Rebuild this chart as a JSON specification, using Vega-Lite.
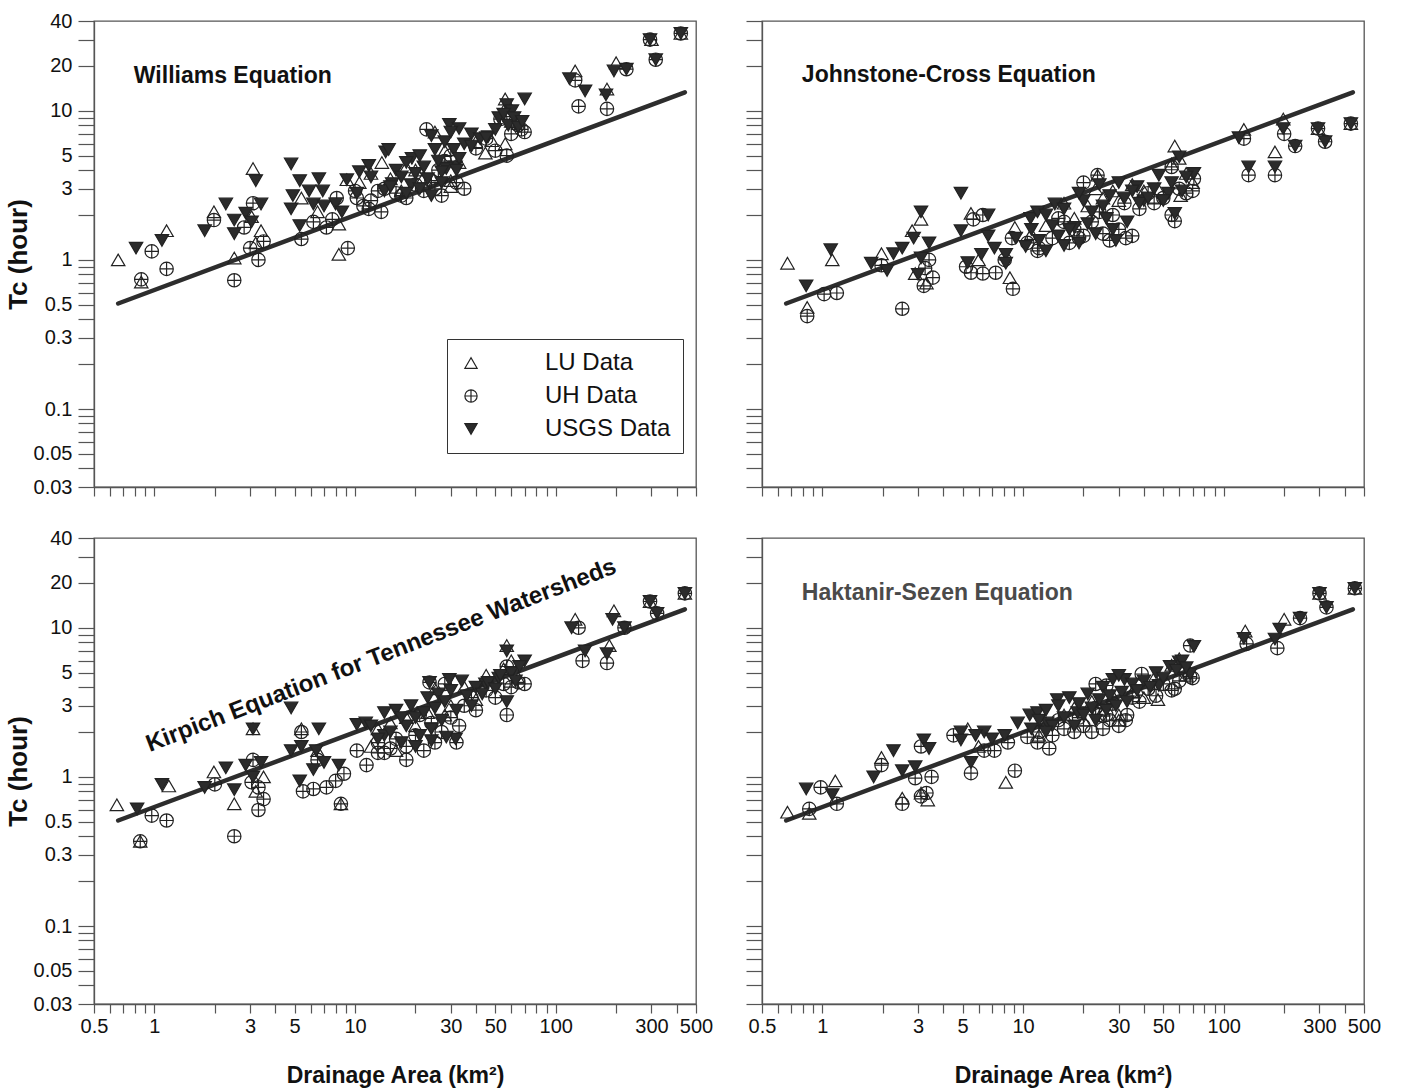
{
"$schema": "https://vega.github.io/schema/vega-lite/v6.json",
"background": "white",
"padding": {"left": 4, "top": 10, "right": 6, "bottom": 0},
"config": {
  "font": "Liberation Sans",
  "view": {"stroke": "#555", "strokeWidth": 1.3},
  "axis": {"grid": false, "domainColor": "#555", "domainWidth": 1.3, "tickColor": "#555", "tickWidth": 1.2, "labelColor": "#111", "labelFontSize": 20, "labelFont": "Liberation Sans", "titleFont": "Liberation Sans", "titleFontWeight": "bold", "titleColor": "#111", "labelOverlap": false, "labelBound": false, "labelFlush": false},
  "axisX": {"tickSize": 9, "labelPadding": 3},
  "axisY": {"tickSize": 16, "labelPadding": 6}
},
"datasets": {
  "fit": [{"area": 0.66, "tc": 0.51}, {"area": 440, "tc": 13.3}],
  "pts": [
{"panel":"W","source":"LU Data","area":0.66,"tc":1.0},{"panel":"W","source":"LU Data","area":0.86,"tc":0.71},{"panel":"W","source":"LU Data","area":1.15,"tc":1.57},{"panel":"W","source":"LU Data","area":1.98,"tc":2.1},{"panel":"W","source":"LU Data","area":2.5,"tc":1.03},{"panel":"W","source":"LU Data","area":3.05,"tc":1.95},{"panel":"W","source":"LU Data","area":3.1,"tc":4.1},{"panel":"W","source":"LU Data","area":3.4,"tc":1.57},{"panel":"W","source":"LU Data","area":8.3,"tc":1.09},{"panel":"W","source":"LU Data","area":8.3,"tc":1.74},{"panel":"W","source":"LU Data","area":9.1,"tc":3.45},{"panel":"W","source":"LU Data","area":10.5,"tc":3.3},{"panel":"W","source":"LU Data","area":13.6,"tc":4.5},{"panel":"W","source":"LU Data","area":44.6,"tc":5.2},{"panel":"W","source":"LU Data","area":56,"tc":6.0},{"panel":"W","source":"LU Data","area":56,"tc":12},{"panel":"W","source":"LU Data","area":30,"tc":3.4},{"panel":"W","source":"LU Data","area":125,"tc":18.5},{"panel":"W","source":"LU Data","area":200,"tc":21},{"panel":"W","source":"LU Data","area":180,"tc":14},{"panel":"W","source":"LU Data","area":12,"tc":3.8},{"panel":"W","source":"LU Data","area":15,"tc":3.5},{"panel":"W","source":"LU Data","area":17,"tc":2.9},{"panel":"W","source":"LU Data","area":18,"tc":4.2},{"panel":"W","source":"LU Data","area":20,"tc":4.0},{"panel":"W","source":"LU Data","area":22,"tc":3.6},{"panel":"W","source":"LU Data","area":25,"tc":7.2},{"panel":"W","source":"LU Data","area":28,"tc":5.4},{"panel":"W","source":"LU Data","area":30,"tc":3.1},{"panel":"W","source":"LU Data","area":33,"tc":4.5},{"panel":"W","source":"LU Data","area":40,"tc":6.2},{"panel":"W","source":"LU Data","area":48,"tc":6.3},{"panel":"W","source":"LU Data","area":55,"tc":10},{"panel":"W","source":"LU Data","area":60,"tc":8.5},{"panel":"W","source":"LU Data","area":65,"tc":8.2},{"panel":"W","source":"LU Data","area":5.4,"tc":2.6},{"panel":"W","source":"LU Data","area":6.5,"tc":2.1},{"panel":"W","source":"LU Data","area":3.2,"tc":1.3},{"panel":"W","source":"LU Data","area":300,"tc":30},{"panel":"W","source":"LU Data","area":420,"tc":33},
{"panel":"W","source":"UH Data","area":0.97,"tc":1.14},{"panel":"W","source":"UH Data","area":1.15,"tc":0.87},{"panel":"W","source":"UH Data","area":0.86,"tc":0.74},{"panel":"W","source":"UH Data","area":1.98,"tc":1.85},{"panel":"W","source":"UH Data","area":2.5,"tc":0.73},{"panel":"W","source":"UH Data","area":2.8,"tc":1.65},{"panel":"W","source":"UH Data","area":3.1,"tc":2.4},{"panel":"W","source":"UH Data","area":3.0,"tc":1.2},{"panel":"W","source":"UH Data","area":3.3,"tc":1.0},{"panel":"W","source":"UH Data","area":3.5,"tc":1.33},{"panel":"W","source":"UH Data","area":5.4,"tc":1.38},{"panel":"W","source":"UH Data","area":6.2,"tc":1.8},{"panel":"W","source":"UH Data","area":7.2,"tc":1.65},{"panel":"W","source":"UH Data","area":8.1,"tc":2.6},{"panel":"W","source":"UH Data","area":9.2,"tc":1.2},{"panel":"W","source":"UH Data","area":7.7,"tc":1.87},{"panel":"W","source":"UH Data","area":10.2,"tc":2.6},{"panel":"W","source":"UH Data","area":13,"tc":2.9},{"panel":"W","source":"UH Data","area":13.5,"tc":2.1},{"panel":"W","source":"UH Data","area":11.7,"tc":2.2},{"panel":"W","source":"UH Data","area":22.7,"tc":7.5},{"panel":"W","source":"UH Data","area":57,"tc":5.0},{"panel":"W","source":"UH Data","area":53,"tc":8.8},{"panel":"W","source":"UH Data","area":67.5,"tc":7.5},{"panel":"W","source":"UH Data","area":32,"tc":3.3},{"panel":"W","source":"UH Data","area":130,"tc":10.7},{"panel":"W","source":"UH Data","area":225,"tc":19},{"panel":"W","source":"UH Data","area":180,"tc":10.3},{"panel":"W","source":"UH Data","area":295,"tc":30},{"panel":"W","source":"UH Data","area":315,"tc":22},{"panel":"W","source":"UH Data","area":420,"tc":33},{"panel":"W","source":"UH Data","area":14,"tc":3.0},{"panel":"W","source":"UH Data","area":16,"tc":2.8},{"panel":"W","source":"UH Data","area":18,"tc":2.6},{"panel":"W","source":"UH Data","area":20,"tc":3.2},{"panel":"W","source":"UH Data","area":22,"tc":2.9},{"panel":"W","source":"UH Data","area":24,"tc":3.4},{"panel":"W","source":"UH Data","area":26,"tc":4.0},{"panel":"W","source":"UH Data","area":28,"tc":4.6},{"panel":"W","source":"UH Data","area":30,"tc":5.0},{"panel":"W","source":"UH Data","area":35,"tc":3.0},{"panel":"W","source":"UH Data","area":40,"tc":5.6},{"panel":"W","source":"UH Data","area":45,"tc":6.5},{"panel":"W","source":"UH Data","area":50,"tc":5.4},{"panel":"W","source":"UH Data","area":60,"tc":7.0},{"panel":"W","source":"UH Data","area":65,"tc":8.0},{"panel":"W","source":"UH Data","area":70,"tc":7.2},{"panel":"W","source":"UH Data","area":12,"tc":2.5},{"panel":"W","source":"UH Data","area":11,"tc":2.3},{"panel":"W","source":"UH Data","area":17,"tc":2.7},{"panel":"W","source":"UH Data","area":25,"tc":3.0},{"panel":"W","source":"UH Data","area":27,"tc":2.7},{"panel":"W","source":"UH Data","area":10,"tc":2.9},{"panel":"W","source":"UH Data","area":125,"tc":16},
{"panel":"W","source":"USGS Data","area":0.81,"tc":1.2},{"panel":"W","source":"USGS Data","area":1.09,"tc":1.35},{"panel":"W","source":"USGS Data","area":1.78,"tc":1.57},{"panel":"W","source":"USGS Data","area":2.27,"tc":2.37},{"panel":"W","source":"USGS Data","area":2.5,"tc":1.85},{"panel":"W","source":"USGS Data","area":2.5,"tc":1.5},{"panel":"W","source":"USGS Data","area":2.85,"tc":2.06},{"panel":"W","source":"USGS Data","area":3.2,"tc":3.4},{"panel":"W","source":"USGS Data","area":3.4,"tc":2.37},{"panel":"W","source":"USGS Data","area":3.05,"tc":1.8},{"panel":"W","source":"USGS Data","area":4.8,"tc":4.4},{"panel":"W","source":"USGS Data","area":5.3,"tc":3.4},{"panel":"W","source":"USGS Data","area":4.9,"tc":2.7},{"panel":"W","source":"USGS Data","area":4.8,"tc":2.2},{"panel":"W","source":"USGS Data","area":5.3,"tc":1.7},{"panel":"W","source":"USGS Data","area":5.9,"tc":2.9},{"panel":"W","source":"USGS Data","area":6.6,"tc":3.5},{"panel":"W","source":"USGS Data","area":6.2,"tc":2.37},{"panel":"W","source":"USGS Data","area":7.0,"tc":2.3},{"panel":"W","source":"USGS Data","area":6.9,"tc":2.9},{"panel":"W","source":"USGS Data","area":8.0,"tc":2.37},{"panel":"W","source":"USGS Data","area":8.6,"tc":2.1},{"panel":"W","source":"USGS Data","area":9.1,"tc":3.45},{"panel":"W","source":"USGS Data","area":10.2,"tc":2.8},{"panel":"W","source":"USGS Data","area":10.5,"tc":3.9},{"panel":"W","source":"USGS Data","area":11.7,"tc":4.3},{"panel":"W","source":"USGS Data","area":14.2,"tc":5.3},{"panel":"W","source":"USGS Data","area":15.3,"tc":3.25},{"panel":"W","source":"USGS Data","area":14.7,"tc":5.5},{"panel":"W","source":"USGS Data","area":19.2,"tc":4.8},{"panel":"W","source":"USGS Data","area":29.5,"tc":8.1},{"panel":"W","source":"USGS Data","area":33,"tc":7.6},{"panel":"W","source":"USGS Data","area":28,"tc":6.2},{"panel":"W","source":"USGS Data","area":38,"tc":7.0},{"panel":"W","source":"USGS Data","area":46,"tc":6.7},{"panel":"W","source":"USGS Data","area":52,"tc":9.0},{"panel":"W","source":"USGS Data","area":57,"tc":11},{"panel":"W","source":"USGS Data","area":60.5,"tc":10},{"panel":"W","source":"USGS Data","area":70,"tc":12},{"panel":"W","source":"USGS Data","area":31.7,"tc":4.2},{"panel":"W","source":"USGS Data","area":28.5,"tc":4.1},{"panel":"W","source":"USGS Data","area":117,"tc":16.4},{"panel":"W","source":"USGS Data","area":140,"tc":13.6},{"panel":"W","source":"USGS Data","area":195,"tc":18.5},{"panel":"W","source":"USGS Data","area":178,"tc":12.8},{"panel":"W","source":"USGS Data","area":295,"tc":30},{"panel":"W","source":"USGS Data","area":315,"tc":22},{"panel":"W","source":"USGS Data","area":420,"tc":33},{"panel":"W","source":"USGS Data","area":225,"tc":19},{"panel":"W","source":"USGS Data","area":16,"tc":4.0},{"panel":"W","source":"USGS Data","area":17,"tc":3.6},{"panel":"W","source":"USGS Data","area":18,"tc":4.5},{"panel":"W","source":"USGS Data","area":19,"tc":3.2},{"panel":"W","source":"USGS Data","area":20,"tc":3.8},{"panel":"W","source":"USGS Data","area":21,"tc":5.0},{"panel":"W","source":"USGS Data","area":22,"tc":4.2},{"panel":"W","source":"USGS Data","area":23,"tc":3.5},{"panel":"W","source":"USGS Data","area":24,"tc":6.8},{"panel":"W","source":"USGS Data","area":25,"tc":5.5},{"panel":"W","source":"USGS Data","area":26,"tc":4.6},{"panel":"W","source":"USGS Data","area":27,"tc":3.9},{"panel":"W","source":"USGS Data","area":30,"tc":7.2},{"panel":"W","source":"USGS Data","area":31,"tc":5.5},{"panel":"W","source":"USGS Data","area":33,"tc":4.8},{"panel":"W","source":"USGS Data","area":35,"tc":6.0},{"panel":"W","source":"USGS Data","area":38,"tc":5.8},{"panel":"W","source":"USGS Data","area":42,"tc":6.5},{"panel":"W","source":"USGS Data","area":45,"tc":6.6},{"panel":"W","source":"USGS Data","area":50,"tc":7.5},{"panel":"W","source":"USGS Data","area":55,"tc":9.5},{"panel":"W","source":"USGS Data","area":58,"tc":8.0},{"panel":"W","source":"USGS Data","area":62,"tc":9.0},{"panel":"W","source":"USGS Data","area":65,"tc":7.8},{"panel":"W","source":"USGS Data","area":68,"tc":8.5},{"panel":"W","source":"USGS Data","area":14,"tc":2.9},{"panel":"W","source":"USGS Data","area":12,"tc":3.6},{"panel":"W","source":"USGS Data","area":15,"tc":3.1},{"panel":"W","source":"USGS Data","area":18,"tc":2.8},{"panel":"W","source":"USGS Data","area":21,"tc":3.0},{"panel":"W","source":"USGS Data","area":24,"tc":2.7},{"panel":"W","source":"USGS Data","area":27,"tc":3.3},{"panel":"W","source":"USGS Data","area":32,"tc":4.0},
{"panel":"J","source":"LU Data","area":0.67,"tc":0.95},{"panel":"J","source":"LU Data","area":0.84,"tc":0.48},{"panel":"J","source":"LU Data","area":1.12,"tc":1.0},{"panel":"J","source":"LU Data","area":1.97,"tc":1.1},{"panel":"J","source":"LU Data","area":2.8,"tc":1.57},{"panel":"J","source":"LU Data","area":3.1,"tc":1.87},{"panel":"J","source":"LU Data","area":2.9,"tc":0.81},{"panel":"J","source":"LU Data","area":5.5,"tc":2.05},{"panel":"J","source":"LU Data","area":8.6,"tc":0.76},{"panel":"J","source":"LU Data","area":9.1,"tc":1.65},{"panel":"J","source":"LU Data","area":57,"tc":5.8},{"panel":"J","source":"LU Data","area":47,"tc":3.0},{"panel":"J","source":"LU Data","area":61,"tc":2.7},{"panel":"J","source":"LU Data","area":126,"tc":7.5},{"panel":"J","source":"LU Data","area":180,"tc":5.3},{"panel":"J","source":"LU Data","area":198,"tc":8.8},{"panel":"J","source":"LU Data","area":23.5,"tc":3.7},{"panel":"J","source":"LU Data","area":13,"tc":1.7},{"panel":"J","source":"LU Data","area":16,"tc":2.4},{"panel":"J","source":"LU Data","area":18,"tc":1.9},{"panel":"J","source":"LU Data","area":21,"tc":2.3},{"panel":"J","source":"LU Data","area":25,"tc":2.6},{"panel":"J","source":"LU Data","area":28,"tc":2.9},{"panel":"J","source":"LU Data","area":30,"tc":2.5},{"panel":"J","source":"LU Data","area":35,"tc":3.2},{"panel":"J","source":"LU Data","area":40,"tc":2.9},{"panel":"J","source":"LU Data","area":45,"tc":2.6},{"panel":"J","source":"LU Data","area":55,"tc":4.4},{"panel":"J","source":"LU Data","area":60,"tc":4.8},{"panel":"J","source":"LU Data","area":65,"tc":3.8},{"panel":"J","source":"LU Data","area":70,"tc":3.3},{"panel":"J","source":"LU Data","area":11,"tc":1.5},{"panel":"J","source":"LU Data","area":23,"tc":3.0},{"panel":"J","source":"LU Data","area":3.3,"tc":0.7},{"panel":"J","source":"LU Data","area":6,"tc":1.0},{"panel":"J","source":"LU Data","area":295,"tc":7.6},{"panel":"J","source":"LU Data","area":430,"tc":8.2},
{"panel":"J","source":"UH Data","area":0.84,"tc":0.42},{"panel":"J","source":"UH Data","area":1.02,"tc":0.59},{"panel":"J","source":"UH Data","area":1.18,"tc":0.6},{"panel":"J","source":"UH Data","area":1.97,"tc":0.92},{"panel":"J","source":"UH Data","area":3.25,"tc":0.88},{"panel":"J","source":"UH Data","area":3.55,"tc":0.76},{"panel":"J","source":"UH Data","area":3.2,"tc":0.67},{"panel":"J","source":"UH Data","area":2.5,"tc":0.47},{"panel":"J","source":"UH Data","area":3.4,"tc":1.0},{"panel":"J","source":"UH Data","area":5.65,"tc":1.87},{"panel":"J","source":"UH Data","area":6.3,"tc":2.0},{"panel":"J","source":"UH Data","area":5.5,"tc":0.82},{"panel":"J","source":"UH Data","area":6.3,"tc":0.81},{"panel":"J","source":"UH Data","area":7.3,"tc":0.82},{"panel":"J","source":"UH Data","area":8.1,"tc":1.0},{"panel":"J","source":"UH Data","area":8.9,"tc":0.64},{"panel":"J","source":"UH Data","area":8.8,"tc":1.4},{"panel":"J","source":"UH Data","area":11.8,"tc":1.15},{"panel":"J","source":"UH Data","area":55,"tc":4.2},{"panel":"J","source":"UH Data","area":57,"tc":1.82},{"panel":"J","source":"UH Data","area":71,"tc":3.5},{"panel":"J","source":"UH Data","area":65,"tc":2.8},{"panel":"J","source":"UH Data","area":126,"tc":6.5},{"panel":"J","source":"UH Data","area":133,"tc":3.7},{"panel":"J","source":"UH Data","area":180,"tc":3.7},{"panel":"J","source":"UH Data","area":200,"tc":7.0},{"panel":"J","source":"UH Data","area":227,"tc":5.8},{"panel":"J","source":"UH Data","area":295,"tc":7.6},{"panel":"J","source":"UH Data","area":320,"tc":6.2},{"panel":"J","source":"UH Data","area":430,"tc":8.2},{"panel":"J","source":"UH Data","area":23.5,"tc":3.7},{"panel":"J","source":"UH Data","area":32.5,"tc":1.4},{"panel":"J","source":"UH Data","area":38,"tc":2.2},{"panel":"J","source":"UH Data","area":19,"tc":1.4},{"panel":"J","source":"UH Data","area":12,"tc":1.2},{"panel":"J","source":"UH Data","area":14,"tc":1.4},{"panel":"J","source":"UH Data","area":15,"tc":1.9},{"panel":"J","source":"UH Data","area":17,"tc":1.3},{"panel":"J","source":"UH Data","area":18,"tc":1.6},{"panel":"J","source":"UH Data","area":20,"tc":1.45},{"panel":"J","source":"UH Data","area":22,"tc":1.8},{"panel":"J","source":"UH Data","area":24,"tc":2.1},{"panel":"J","source":"UH Data","area":25,"tc":1.5},{"panel":"J","source":"UH Data","area":27,"tc":1.35},{"panel":"J","source":"UH Data","area":30,"tc":1.6},{"panel":"J","source":"UH Data","area":32,"tc":2.4},{"panel":"J","source":"UH Data","area":35,"tc":1.45},{"panel":"J","source":"UH Data","area":42,"tc":2.8},{"panel":"J","source":"UH Data","area":45,"tc":2.4},{"panel":"J","source":"UH Data","area":50,"tc":2.6},{"panel":"J","source":"UH Data","area":55,"tc":2.0},{"panel":"J","source":"UH Data","area":60,"tc":3.0},{"panel":"J","source":"UH Data","area":70,"tc":2.9},{"panel":"J","source":"UH Data","area":20,"tc":3.3},{"panel":"J","source":"UH Data","area":16,"tc":1.8},{"panel":"J","source":"UH Data","area":28,"tc":2.0},{"panel":"J","source":"UH Data","area":10.5,"tc":1.3},{"panel":"J","source":"UH Data","area":5.2,"tc":0.9},
{"panel":"J","source":"USGS Data","area":0.83,"tc":0.67},{"panel":"J","source":"USGS Data","area":1.1,"tc":1.17},{"panel":"J","source":"USGS Data","area":1.75,"tc":0.95},{"panel":"J","source":"USGS Data","area":2.26,"tc":1.1},{"panel":"J","source":"USGS Data","area":2.5,"tc":1.2},{"panel":"J","source":"USGS Data","area":2.85,"tc":1.4},{"panel":"J","source":"USGS Data","area":3.1,"tc":2.1},{"panel":"J","source":"USGS Data","area":3.1,"tc":1.03},{"panel":"J","source":"USGS Data","area":3.4,"tc":1.3},{"panel":"J","source":"USGS Data","area":4.9,"tc":2.8},{"panel":"J","source":"USGS Data","area":4.9,"tc":1.57},{"panel":"J","source":"USGS Data","area":6.7,"tc":2.0},{"panel":"J","source":"USGS Data","area":5.3,"tc":0.96},{"panel":"J","source":"USGS Data","area":6.2,"tc":1.09},{"panel":"J","source":"USGS Data","area":6.7,"tc":1.45},{"panel":"J","source":"USGS Data","area":7.2,"tc":1.2},{"panel":"J","source":"USGS Data","area":8.2,"tc":1.09},{"panel":"J","source":"USGS Data","area":8.2,"tc":0.95},{"panel":"J","source":"USGS Data","area":9.2,"tc":1.4},{"panel":"J","source":"USGS Data","area":10.3,"tc":1.23},{"panel":"J","source":"USGS Data","area":10.9,"tc":1.9},{"panel":"J","source":"USGS Data","area":11.8,"tc":2.1},{"panel":"J","source":"USGS Data","area":14.4,"tc":2.37},{"panel":"J","source":"USGS Data","area":60,"tc":4.9},{"panel":"J","source":"USGS Data","area":57,"tc":2.05},{"panel":"J","source":"USGS Data","area":71,"tc":3.8},{"panel":"J","source":"USGS Data","area":47.5,"tc":3.7},{"panel":"J","source":"USGS Data","area":53,"tc":2.8},{"panel":"J","source":"USGS Data","area":119,"tc":6.6},{"panel":"J","source":"USGS Data","area":133,"tc":4.2},{"panel":"J","source":"USGS Data","area":180,"tc":4.2},{"panel":"J","source":"USGS Data","area":198,"tc":7.6},{"panel":"J","source":"USGS Data","area":227,"tc":5.8},{"panel":"J","source":"USGS Data","area":295,"tc":7.6},{"panel":"J","source":"USGS Data","area":320,"tc":6.2},{"panel":"J","source":"USGS Data","area":430,"tc":8.2},{"panel":"J","source":"USGS Data","area":30,"tc":3.3},{"panel":"J","source":"USGS Data","area":29,"tc":1.35},{"panel":"J","source":"USGS Data","area":32,"tc":2.6},{"panel":"J","source":"USGS Data","area":37,"tc":3.1},{"panel":"J","source":"USGS Data","area":40,"tc":2.5},{"panel":"J","source":"USGS Data","area":18,"tc":1.65},{"panel":"J","source":"USGS Data","area":11,"tc":1.6},{"panel":"J","source":"USGS Data","area":12,"tc":1.35},{"panel":"J","source":"USGS Data","area":13,"tc":2.0},{"panel":"J","source":"USGS Data","area":14,"tc":1.7},{"panel":"J","source":"USGS Data","area":15,"tc":1.45},{"panel":"J","source":"USGS Data","area":16,"tc":2.2},{"panel":"J","source":"USGS Data","area":17,"tc":1.6},{"panel":"J","source":"USGS Data","area":19,"tc":1.3},{"panel":"J","source":"USGS Data","area":20,"tc":2.5},{"panel":"J","source":"USGS Data","area":21,"tc":1.75},{"panel":"J","source":"USGS Data","area":22,"tc":2.1},{"panel":"J","source":"USGS Data","area":23,"tc":1.5},{"panel":"J","source":"USGS Data","area":24,"tc":3.2},{"panel":"J","source":"USGS Data","area":25,"tc":2.3},{"panel":"J","source":"USGS Data","area":26,"tc":1.9},{"panel":"J","source":"USGS Data","area":27,"tc":2.7},{"panel":"J","source":"USGS Data","area":28,"tc":1.6},{"panel":"J","source":"USGS Data","area":33,"tc":1.8},{"panel":"J","source":"USGS Data","area":35,"tc":2.9},{"panel":"J","source":"USGS Data","area":38,"tc":2.4},{"panel":"J","source":"USGS Data","area":42,"tc":2.6},{"panel":"J","source":"USGS Data","area":45,"tc":3.0},{"panel":"J","source":"USGS Data","area":50,"tc":2.5},{"panel":"J","source":"USGS Data","area":55,"tc":3.3},{"panel":"J","source":"USGS Data","area":62,"tc":2.9},{"panel":"J","source":"USGS Data","area":65,"tc":3.6},{"panel":"J","source":"USGS Data","area":13,"tc":1.15},{"panel":"J","source":"USGS Data","area":16,"tc":1.25},{"panel":"J","source":"USGS Data","area":19,"tc":2.8},{"panel":"J","source":"USGS Data","area":2.1,"tc":0.85},{"panel":"J","source":"USGS Data","area":3.0,"tc":0.8},
{"panel":"K","source":"LU Data","area":0.65,"tc":0.65},{"panel":"K","source":"LU Data","area":0.85,"tc":0.37},{"panel":"K","source":"LU Data","area":1.18,"tc":0.87},{"panel":"K","source":"LU Data","area":1.98,"tc":1.08},{"panel":"K","source":"LU Data","area":2.5,"tc":0.66},{"panel":"K","source":"LU Data","area":3.1,"tc":2.1},{"panel":"K","source":"LU Data","area":5.4,"tc":2.1},{"panel":"K","source":"LU Data","area":3.5,"tc":1.0},{"panel":"K","source":"LU Data","area":8.5,"tc":0.66},{"panel":"K","source":"LU Data","area":57,"tc":7.6},{"panel":"K","source":"LU Data","area":125,"tc":11.4},{"panel":"K","source":"LU Data","area":185,"tc":7.6},{"panel":"K","source":"LU Data","area":195,"tc":13},{"panel":"K","source":"LU Data","area":12,"tc":1.6},{"panel":"K","source":"LU Data","area":13,"tc":2.1},{"panel":"K","source":"LU Data","area":15,"tc":2.3},{"panel":"K","source":"LU Data","area":16,"tc":1.5},{"panel":"K","source":"LU Data","area":18,"tc":2.5},{"panel":"K","source":"LU Data","area":20,"tc":2.2},{"panel":"K","source":"LU Data","area":23,"tc":2.7},{"panel":"K","source":"LU Data","area":25,"tc":3.9},{"panel":"K","source":"LU Data","area":28,"tc":2.6},{"panel":"K","source":"LU Data","area":30,"tc":3.0},{"panel":"K","source":"LU Data","area":35,"tc":4.0},{"panel":"K","source":"LU Data","area":40,"tc":3.3},{"panel":"K","source":"LU Data","area":45,"tc":4.8},{"panel":"K","source":"LU Data","area":55,"tc":5.3},{"panel":"K","source":"LU Data","area":60,"tc":6.0},{"panel":"K","source":"LU Data","area":65,"tc":4.6},{"panel":"K","source":"LU Data","area":295,"tc":15},{"panel":"K","source":"LU Data","area":440,"tc":17},{"panel":"K","source":"LU Data","area":3.2,"tc":0.8},{"panel":"K","source":"LU Data","area":6.5,"tc":1.5},
{"panel":"K","source":"UH Data","area":0.85,"tc":0.37},{"panel":"K","source":"UH Data","area":0.97,"tc":0.55},{"panel":"K","source":"UH Data","area":1.15,"tc":0.51},{"panel":"K","source":"UH Data","area":2.0,"tc":0.89},{"panel":"K","source":"UH Data","area":2.5,"tc":0.4},{"panel":"K","source":"UH Data","area":3.1,"tc":1.3},{"panel":"K","source":"UH Data","area":3.05,"tc":0.92},{"panel":"K","source":"UH Data","area":3.3,"tc":0.85},{"panel":"K","source":"UH Data","area":3.5,"tc":0.71},{"panel":"K","source":"UH Data","area":3.3,"tc":0.6},{"panel":"K","source":"UH Data","area":5.4,"tc":2.0},{"panel":"K","source":"UH Data","area":5.5,"tc":0.8},{"panel":"K","source":"UH Data","area":6.2,"tc":0.83},{"panel":"K","source":"UH Data","area":7.2,"tc":0.85},{"panel":"K","source":"UH Data","area":8.0,"tc":0.94},{"panel":"K","source":"UH Data","area":8.8,"tc":1.05},{"panel":"K","source":"UH Data","area":8.5,"tc":0.66},{"panel":"K","source":"UH Data","area":10.2,"tc":1.5},{"panel":"K","source":"UH Data","area":11.4,"tc":1.2},{"panel":"K","source":"UH Data","area":13,"tc":1.45},{"panel":"K","source":"UH Data","area":23.5,"tc":4.3},{"panel":"K","source":"UH Data","area":57,"tc":5.5},{"panel":"K","source":"UH Data","area":57,"tc":2.6},{"panel":"K","source":"UH Data","area":65,"tc":4.3},{"panel":"K","source":"UH Data","area":32,"tc":1.7},{"panel":"K","source":"UH Data","area":130,"tc":10},{"panel":"K","source":"UH Data","area":136,"tc":6},{"panel":"K","source":"UH Data","area":180,"tc":5.8},{"panel":"K","source":"UH Data","area":220,"tc":10},{"panel":"K","source":"UH Data","area":295,"tc":15},{"panel":"K","source":"UH Data","area":320,"tc":12.5},{"panel":"K","source":"UH Data","area":440,"tc":17},{"panel":"K","source":"UH Data","area":13,"tc":1.7},{"panel":"K","source":"UH Data","area":15,"tc":1.55},{"panel":"K","source":"UH Data","area":16,"tc":1.8},{"panel":"K","source":"UH Data","area":18,"tc":1.6},{"panel":"K","source":"UH Data","area":20,"tc":1.9},{"panel":"K","source":"UH Data","area":22,"tc":1.5},{"panel":"K","source":"UH Data","area":24,"tc":2.3},{"panel":"K","source":"UH Data","area":25,"tc":1.7},{"panel":"K","source":"UH Data","area":27,"tc":2.0},{"panel":"K","source":"UH Data","area":28,"tc":4.2},{"panel":"K","source":"UH Data","area":30,"tc":2.5},{"panel":"K","source":"UH Data","area":33,"tc":2.2},{"panel":"K","source":"UH Data","area":35,"tc":3.0},{"panel":"K","source":"UH Data","area":38,"tc":3.4},{"panel":"K","source":"UH Data","area":40,"tc":2.8},{"panel":"K","source":"UH Data","area":45,"tc":3.8},{"panel":"K","source":"UH Data","area":50,"tc":3.4},{"panel":"K","source":"UH Data","area":55,"tc":4.2},{"panel":"K","source":"UH Data","area":60,"tc":4.0},{"panel":"K","source":"UH Data","area":70,"tc":4.2},{"panel":"K","source":"UH Data","area":18,"tc":1.3},{"panel":"K","source":"UH Data","area":21,"tc":2.6},{"panel":"K","source":"UH Data","area":14,"tc":1.45},{"panel":"K","source":"UH Data","area":6.5,"tc":1.3},
{"panel":"K","source":"USGS Data","area":0.82,"tc":0.61},{"panel":"K","source":"USGS Data","area":1.09,"tc":0.89},{"panel":"K","source":"USGS Data","area":1.78,"tc":0.85},{"panel":"K","source":"USGS Data","area":2.27,"tc":1.15},{"panel":"K","source":"USGS Data","area":2.5,"tc":0.82},{"panel":"K","source":"USGS Data","area":2.85,"tc":1.2},{"panel":"K","source":"USGS Data","area":3.1,"tc":2.1},{"panel":"K","source":"USGS Data","area":3.4,"tc":1.25},{"panel":"K","source":"USGS Data","area":3.1,"tc":1.0},{"panel":"K","source":"USGS Data","area":4.8,"tc":2.9},{"panel":"K","source":"USGS Data","area":4.8,"tc":1.5},{"panel":"K","source":"USGS Data","area":5.4,"tc":1.6},{"panel":"K","source":"USGS Data","area":5.3,"tc":0.94},{"panel":"K","source":"USGS Data","area":6.2,"tc":1.12},{"panel":"K","source":"USGS Data","area":6.6,"tc":2.1},{"panel":"K","source":"USGS Data","area":6.4,"tc":1.5},{"panel":"K","source":"USGS Data","area":7.0,"tc":1.25},{"panel":"K","source":"USGS Data","area":8.3,"tc":1.2},{"panel":"K","source":"USGS Data","area":10.2,"tc":2.25},{"panel":"K","source":"USGS Data","area":11.3,"tc":2.3},{"panel":"K","source":"USGS Data","area":14,"tc":2.7},{"panel":"K","source":"USGS Data","area":14,"tc":1.9},{"panel":"K","source":"USGS Data","area":29.5,"tc":4.5},{"panel":"K","source":"USGS Data","area":23.5,"tc":4.3},{"panel":"K","source":"USGS Data","area":57,"tc":7.0},{"panel":"K","source":"USGS Data","area":70,"tc":6.0},{"panel":"K","source":"USGS Data","area":57,"tc":3.2},{"panel":"K","source":"USGS Data","area":52,"tc":4.6},{"panel":"K","source":"USGS Data","area":44.6,"tc":4.2},{"panel":"K","source":"USGS Data","area":31.7,"tc":1.8},{"panel":"K","source":"USGS Data","area":28.5,"tc":1.85},{"panel":"K","source":"USGS Data","area":120,"tc":10},{"panel":"K","source":"USGS Data","area":140,"tc":7},{"panel":"K","source":"USGS Data","area":180,"tc":6.7},{"panel":"K","source":"USGS Data","area":192,"tc":11.4},{"panel":"K","source":"USGS Data","area":295,"tc":15},{"panel":"K","source":"USGS Data","area":320,"tc":12.5},{"panel":"K","source":"USGS Data","area":440,"tc":17},{"panel":"K","source":"USGS Data","area":15,"tc":2.0},{"panel":"K","source":"USGS Data","area":16,"tc":2.8},{"panel":"K","source":"USGS Data","area":17,"tc":1.7},{"panel":"K","source":"USGS Data","area":18,"tc":2.2},{"panel":"K","source":"USGS Data","area":19,"tc":3.0},{"panel":"K","source":"USGS Data","area":20,"tc":2.5},{"panel":"K","source":"USGS Data","area":21,"tc":1.9},{"panel":"K","source":"USGS Data","area":22,"tc":2.7},{"panel":"K","source":"USGS Data","area":23,"tc":3.4},{"panel":"K","source":"USGS Data","area":24,"tc":2.1},{"panel":"K","source":"USGS Data","area":25,"tc":2.9},{"panel":"K","source":"USGS Data","area":26,"tc":3.6},{"panel":"K","source":"USGS Data","area":27,"tc":2.4},{"panel":"K","source":"USGS Data","area":28,"tc":3.2},{"panel":"K","source":"USGS Data","area":30,"tc":3.8},{"panel":"K","source":"USGS Data","area":32,"tc":2.8},{"panel":"K","source":"USGS Data","area":34,"tc":4.4},{"panel":"K","source":"USGS Data","area":36,"tc":3.5},{"panel":"K","source":"USGS Data","area":38,"tc":3.0},{"panel":"K","source":"USGS Data","area":40,"tc":4.0},{"panel":"K","source":"USGS Data","area":43,"tc":3.6},{"panel":"K","source":"USGS Data","area":46,"tc":4.3},{"panel":"K","source":"USGS Data","area":50,"tc":3.9},{"panel":"K","source":"USGS Data","area":53,"tc":4.8},{"panel":"K","source":"USGS Data","area":60,"tc":5.0},{"panel":"K","source":"USGS Data","area":63,"tc":4.4},{"panel":"K","source":"USGS Data","area":66,"tc":5.5},{"panel":"K","source":"USGS Data","area":13,"tc":1.8},{"panel":"K","source":"USGS Data","area":12,"tc":2.2},{"panel":"K","source":"USGS Data","area":20,"tc":1.6},{"panel":"K","source":"USGS Data","area":24,"tc":1.75},{"panel":"K","source":"USGS Data","area":17,"tc":2.5},{"panel":"K","source":"USGS Data","area":220,"tc":10},
{"panel":"H","source":"LU Data","area":0.67,"tc":0.58},{"panel":"H","source":"LU Data","area":0.86,"tc":0.57},{"panel":"H","source":"LU Data","area":1.16,"tc":0.94},{"panel":"H","source":"LU Data","area":1.97,"tc":1.35},{"panel":"H","source":"LU Data","area":2.5,"tc":0.72},{"panel":"H","source":"LU Data","area":3.35,"tc":0.7},{"panel":"H","source":"LU Data","area":3.1,"tc":0.78},{"panel":"H","source":"LU Data","area":8.2,"tc":0.92},{"panel":"H","source":"LU Data","area":30,"tc":2.4},{"panel":"H","source":"LU Data","area":47,"tc":3.3},{"panel":"H","source":"LU Data","area":128,"tc":9.5},{"panel":"H","source":"LU Data","area":200,"tc":11.4},{"panel":"H","source":"LU Data","area":12,"tc":1.9},{"panel":"H","source":"LU Data","area":13,"tc":2.3},{"panel":"H","source":"LU Data","area":16,"tc":2.6},{"panel":"H","source":"LU Data","area":18,"tc":2.9},{"panel":"H","source":"LU Data","area":20,"tc":2.4},{"panel":"H","source":"LU Data","area":22,"tc":3.2},{"panel":"H","source":"LU Data","area":25,"tc":2.8},{"panel":"H","source":"LU Data","area":28,"tc":3.5},{"panel":"H","source":"LU Data","area":30,"tc":2.6},{"panel":"H","source":"LU Data","area":35,"tc":3.7},{"panel":"H","source":"LU Data","area":40,"tc":3.4},{"panel":"H","source":"LU Data","area":45,"tc":4.6},{"panel":"H","source":"LU Data","area":55,"tc":5.6},{"panel":"H","source":"LU Data","area":60,"tc":6.2},{"panel":"H","source":"LU Data","area":65,"tc":4.8},{"panel":"H","source":"LU Data","area":5.3,"tc":2.1},{"panel":"H","source":"LU Data","area":300,"tc":17},{"panel":"H","source":"LU Data","area":450,"tc":18.4},{"panel":"H","source":"LU Data","area":6,"tc":1.6},
{"panel":"H","source":"UH Data","area":0.86,"tc":0.61},{"panel":"H","source":"UH Data","area":0.98,"tc":0.85},{"panel":"H","source":"UH Data","area":1.18,"tc":0.66},{"panel":"H","source":"UH Data","area":1.97,"tc":1.2},{"panel":"H","source":"UH Data","area":2.5,"tc":0.66},{"panel":"H","source":"UH Data","area":2.9,"tc":0.98},{"panel":"H","source":"UH Data","area":3.1,"tc":0.74},{"panel":"H","source":"UH Data","area":3.3,"tc":0.78},{"panel":"H","source":"UH Data","area":3.1,"tc":1.6},{"panel":"H","source":"UH Data","area":3.5,"tc":1.0},{"panel":"H","source":"UH Data","area":5.5,"tc":1.06},{"panel":"H","source":"UH Data","area":6.4,"tc":1.5},{"panel":"H","source":"UH Data","area":7.2,"tc":1.5},{"panel":"H","source":"UH Data","area":9.1,"tc":1.1},{"panel":"H","source":"UH Data","area":8.4,"tc":1.7},{"panel":"H","source":"UH Data","area":10.5,"tc":1.85},{"panel":"H","source":"UH Data","area":11.8,"tc":1.7},{"panel":"H","source":"UH Data","area":13.5,"tc":1.55},{"panel":"H","source":"UH Data","area":68,"tc":7.6},{"panel":"H","source":"UH Data","area":68,"tc":4.7},{"panel":"H","source":"UH Data","area":57,"tc":3.9},{"panel":"H","source":"UH Data","area":32.5,"tc":2.4},{"panel":"H","source":"UH Data","area":39,"tc":4.9},{"panel":"H","source":"UH Data","area":23,"tc":4.2},{"panel":"H","source":"UH Data","area":26,"tc":2.6},{"panel":"H","source":"UH Data","area":130,"tc":7.8},{"panel":"H","source":"UH Data","area":185,"tc":7.3},{"panel":"H","source":"UH Data","area":240,"tc":11.6},{"panel":"H","source":"UH Data","area":300,"tc":17},{"panel":"H","source":"UH Data","area":325,"tc":13.7},{"panel":"H","source":"UH Data","area":450,"tc":18.4},{"panel":"H","source":"UH Data","area":12,"tc":2.0},{"panel":"H","source":"UH Data","area":14,"tc":1.9},{"panel":"H","source":"UH Data","area":15,"tc":2.4},{"panel":"H","source":"UH Data","area":16,"tc":2.1},{"panel":"H","source":"UH Data","area":18,"tc":2.0},{"panel":"H","source":"UH Data","area":19,"tc":2.5},{"panel":"H","source":"UH Data","area":20,"tc":2.2},{"panel":"H","source":"UH Data","area":22,"tc":2.0},{"panel":"H","source":"UH Data","area":23,"tc":2.9},{"panel":"H","source":"UH Data","area":24,"tc":2.6},{"panel":"H","source":"UH Data","area":25,"tc":2.1},{"panel":"H","source":"UH Data","area":27,"tc":2.4},{"panel":"H","source":"UH Data","area":28,"tc":3.1},{"panel":"H","source":"UH Data","area":30,"tc":2.2},{"panel":"H","source":"UH Data","area":33,"tc":2.6},{"panel":"H","source":"UH Data","area":35,"tc":3.4},{"panel":"H","source":"UH Data","area":38,"tc":3.2},{"panel":"H","source":"UH Data","area":42,"tc":3.9},{"panel":"H","source":"UH Data","area":46,"tc":3.5},{"panel":"H","source":"UH Data","area":50,"tc":4.2},{"panel":"H","source":"UH Data","area":55,"tc":3.8},{"panel":"H","source":"UH Data","area":60,"tc":4.4},{"panel":"H","source":"UH Data","area":65,"tc":5.0},{"panel":"H","source":"UH Data","area":70,"tc":4.6},{"panel":"H","source":"UH Data","area":26,"tc":4.1},{"panel":"H","source":"UH Data","area":4.5,"tc":1.9},
{"panel":"H","source":"USGS Data","area":0.83,"tc":0.83},{"panel":"H","source":"USGS Data","area":1.12,"tc":0.76},{"panel":"H","source":"USGS Data","area":1.8,"tc":1.0},{"panel":"H","source":"USGS Data","area":2.26,"tc":1.5},{"panel":"H","source":"USGS Data","area":2.5,"tc":1.1},{"panel":"H","source":"USGS Data","area":2.9,"tc":1.17},{"panel":"H","source":"USGS Data","area":3.2,"tc":1.77},{"panel":"H","source":"USGS Data","area":3.4,"tc":1.55},{"panel":"H","source":"USGS Data","area":4.9,"tc":2.0},{"panel":"H","source":"USGS Data","area":4.9,"tc":1.77},{"panel":"H","source":"USGS Data","area":5.5,"tc":1.25},{"panel":"H","source":"USGS Data","area":6.4,"tc":2.0},{"panel":"H","source":"USGS Data","area":8.1,"tc":1.9},{"panel":"H","source":"USGS Data","area":9.4,"tc":2.3},{"panel":"H","source":"USGS Data","area":10.8,"tc":2.6},{"panel":"H","source":"USGS Data","area":11.8,"tc":2.7},{"panel":"H","source":"USGS Data","area":14.8,"tc":3.3},{"panel":"H","source":"USGS Data","area":13.2,"tc":2.3},{"panel":"H","source":"USGS Data","area":71,"tc":7.5},{"panel":"H","source":"USGS Data","area":68,"tc":4.9},{"panel":"H","source":"USGS Data","area":47.5,"tc":4.1},{"panel":"H","source":"USGS Data","area":60,"tc":5.9},{"panel":"H","source":"USGS Data","area":32,"tc":4.5},{"panel":"H","source":"USGS Data","area":18.7,"tc":2.7},{"panel":"H","source":"USGS Data","area":126,"tc":8.5},{"panel":"H","source":"USGS Data","area":190,"tc":9.8},{"panel":"H","source":"USGS Data","area":180,"tc":8.4},{"panel":"H","source":"USGS Data","area":240,"tc":11.6},{"panel":"H","source":"USGS Data","area":300,"tc":17},{"panel":"H","source":"USGS Data","area":325,"tc":13.7},{"panel":"H","source":"USGS Data","area":450,"tc":18.4},{"panel":"H","source":"USGS Data","area":12,"tc":2.4},{"panel":"H","source":"USGS Data","area":13,"tc":2.8},{"panel":"H","source":"USGS Data","area":14,"tc":2.2},{"panel":"H","source":"USGS Data","area":15,"tc":3.0},{"panel":"H","source":"USGS Data","area":16,"tc":2.5},{"panel":"H","source":"USGS Data","area":17,"tc":3.4},{"panel":"H","source":"USGS Data","area":18,"tc":2.2},{"panel":"H","source":"USGS Data","area":19,"tc":3.1},{"panel":"H","source":"USGS Data","area":20,"tc":2.6},{"panel":"H","source":"USGS Data","area":21,"tc":3.6},{"panel":"H","source":"USGS Data","area":22,"tc":2.9},{"panel":"H","source":"USGS Data","area":23,"tc":2.4},{"panel":"H","source":"USGS Data","area":24,"tc":3.3},{"panel":"H","source":"USGS Data","area":25,"tc":4.0},{"panel":"H","source":"USGS Data","area":26,"tc":2.8},{"panel":"H","source":"USGS Data","area":27,"tc":3.5},{"panel":"H","source":"USGS Data","area":28,"tc":4.5},{"panel":"H","source":"USGS Data","area":29,"tc":3.0},{"panel":"H","source":"USGS Data","area":30,"tc":4.8},{"panel":"H","source":"USGS Data","area":31,"tc":3.7},{"panel":"H","source":"USGS Data","area":33,"tc":3.2},{"panel":"H","source":"USGS Data","area":35,"tc":4.2},{"panel":"H","source":"USGS Data","area":37,"tc":3.8},{"panel":"H","source":"USGS Data","area":40,"tc":4.4},{"panel":"H","source":"USGS Data","area":43,"tc":4.0},{"panel":"H","source":"USGS Data","area":46,"tc":5.0},{"panel":"H","source":"USGS Data","area":50,"tc":4.6},{"panel":"H","source":"USGS Data","area":54,"tc":5.5},{"panel":"H","source":"USGS Data","area":58,"tc":5.2},{"panel":"H","source":"USGS Data","area":62,"tc":6.0},{"panel":"H","source":"USGS Data","area":65,"tc":5.4},{"panel":"H","source":"USGS Data","area":11,"tc":2.1},{"panel":"H","source":"USGS Data","area":13,"tc":2.0},{"panel":"H","source":"USGS Data","area":5.8,"tc":1.9},{"panel":"H","source":"USGS Data","area":7,"tc":1.8}
  ]
},
"columns": 2,
"spacing": {"row": 51, "column": 66},
"bounds": "flush",
"resolve": {"scale": {"shape": "independent", "fill": "independent", "stroke": "independent"}, "legend": {"shape": "independent", "fill": "independent", "stroke": "independent"}},
"concat": [
 {
  "width": 602, "height": 466,
  "layer": [
    {"data": {"name": "fit"}, "mark": {"type": "line", "color": "#2d2d2d", "strokeWidth": 4.5, "strokeCap": "round"},
     "encoding": {
      "x": {"field": "area", "type": "quantitative", "scale": {"type": "log", "domain": [0.5, 500], "nice": false}, "axis": {"values": [0.5,0.6,0.7,0.8,0.9,1,2,3,4,5,6,7,8,9,10,20,30,40,50,60,70,80,90,100,200,300,400,500], "labels": false, "title": null}},
      "y": {"field": "tc", "type": "quantitative", "scale": {"type": "log", "domain": [0.03, 40], "nice": false}, "axis": {"values": [0.03,0.04,0.05,0.06,0.07,0.08,0.09,0.1,0.2,0.3,0.4,0.5,0.6,0.7,0.8,0.9,1,2,3,4,5,6,7,8,9,10,20,30,40], "labelExpr": "indexof([0.03,0.05,0.1,0.3,0.5,1,3,5,10,20,40], datum.value) >= 0 ? '' + datum.value : ''", "title": "Tc (hour)", "titleFontSize": 26, "titlePadding": 2}}
     }},
    {"data": {"name": "pts"}, "transform": [{"filter": "datum.panel === 'W'"}],
     "mark": {"type": "point", "size": 180, "strokeWidth": 1.2, "opacity": 1, "filled": false},
     "encoding": {
       "x": {"field": "area", "type": "quantitative"},
       "y": {"field": "tc", "type": "quantitative"},
       "shape": {"field": "source", "type": "nominal", "scale": {"domain": ["LU Data","UH Data","USGS Data"], "range": ["triangle-up", "M-1,0A1,1,0,1,1,1,0A1,1,0,1,1,-1,0ZM-1,0L1,0M0,-1L0,1", "triangle-down"]},
                 "legend": {"orient": "none", "legendX": 353, "legendY": 318, "title": null, "strokeColor": "#333", "fillColor": "white", "padding": 12, "labelFontSize": 24, "labelFont": "Liberation Sans", "labelColor": "#111", "labelOffset": 62, "rowPadding": 9, "symbolSize": 150, "symbolStrokeWidth": 1.2}},
       "fill": {"field": "source", "type": "nominal", "scale": {"domain": ["LU Data","UH Data","USGS Data"], "range": ["transparent", "transparent", "#2b2b2b"]},
                 "legend": {"orient": "none", "legendX": 353, "legendY": 318, "title": null, "strokeColor": "#333", "fillColor": "white", "padding": 12, "labelFontSize": 24, "labelFont": "Liberation Sans", "labelColor": "#111", "labelOffset": 62, "rowPadding": 9, "symbolSize": 150, "symbolStrokeWidth": 1.2}},
       "stroke": {"field": "source", "type": "nominal", "scale": {"domain": ["LU Data","UH Data","USGS Data"], "range": ["#222", "#222", "#222"]},
                 "legend": {"orient": "none", "legendX": 353, "legendY": 318, "title": null, "strokeColor": "#333", "fillColor": "white", "padding": 12, "labelFontSize": 24, "labelFont": "Liberation Sans", "labelColor": "#111", "labelOffset": 62, "rowPadding": 9, "symbolSize": 150, "symbolStrokeWidth": 1.2}}
     }},
    {"data": {"values": [{"label": "Williams Equation"}]}, "mark": {"type": "text", "align": "left", "baseline": "middle", "fontSize": 23, "fontWeight": "bold", "fill": "#111"}, "encoding": {"text": {"field": "label", "type": "nominal"}, "x": {"datum": 0.79, "type": "quantitative"}, "y": {"datum": 17.1, "type": "quantitative"}}}
  ]
 },
 {
  "width": 602, "height": 466,
  "layer": [
    {"data": {"name": "fit"}, "mark": {"type": "line", "color": "#2d2d2d", "strokeWidth": 4.5, "strokeCap": "round"},
     "encoding": {
      "x": {"field": "area", "type": "quantitative", "scale": {"type": "log", "domain": [0.5, 500], "nice": false}, "axis": {"values": [0.5,0.6,0.7,0.8,0.9,1,2,3,4,5,6,7,8,9,10,20,30,40,50,60,70,80,90,100,200,300,400,500], "labels": false, "title": null}},
      "y": {"field": "tc", "type": "quantitative", "scale": {"type": "log", "domain": [0.03, 40], "nice": false}, "axis": {"values": [0.03,0.04,0.05,0.06,0.07,0.08,0.09,0.1,0.2,0.3,0.4,0.5,0.6,0.7,0.8,0.9,1,2,3,4,5,6,7,8,9,10,20,30,40], "labels": false, "title": null}}
     }},
    {"data": {"name": "pts"}, "transform": [{"filter": "datum.panel === 'J'"}],
     "mark": {"type": "point", "size": 180, "strokeWidth": 1.2, "opacity": 1, "filled": false},
     "encoding": {
       "x": {"field": "area", "type": "quantitative"},
       "y": {"field": "tc", "type": "quantitative"},
       "shape": {"field": "source", "type": "nominal", "scale": {"domain": ["LU Data","UH Data","USGS Data"], "range": ["triangle-up", "M-1,0A1,1,0,1,1,1,0A1,1,0,1,1,-1,0ZM-1,0L1,0M0,-1L0,1", "triangle-down"]}, "legend": null},
       "fill": {"field": "source", "type": "nominal", "scale": {"domain": ["LU Data","UH Data","USGS Data"], "range": ["transparent", "transparent", "#2b2b2b"]}, "legend": null},
       "stroke": {"field": "source", "type": "nominal", "scale": {"domain": ["LU Data","UH Data","USGS Data"], "range": ["#222", "#222", "#222"]}, "legend": null}
     }},
    {"data": {"values": [{"label": "Johnstone-Cross Equation"}]}, "mark": {"type": "text", "align": "left", "baseline": "middle", "fontSize": 23, "fontWeight": "bold", "fill": "#111"}, "encoding": {"text": {"field": "label", "type": "nominal"}, "x": {"datum": 0.79, "type": "quantitative"}, "y": {"datum": 17.3, "type": "quantitative"}}}
  ]
 },
 {
  "width": 602, "height": 466,
  "layer": [
    {"data": {"name": "fit"}, "mark": {"type": "line", "color": "#2d2d2d", "strokeWidth": 4.5, "strokeCap": "round"},
     "encoding": {
      "x": {"field": "area", "type": "quantitative", "scale": {"type": "log", "domain": [0.5, 500], "nice": false}, "axis": {"values": [0.5,0.6,0.7,0.8,0.9,1,2,3,4,5,6,7,8,9,10,20,30,40,50,60,70,80,90,100,200,300,400,500], "labelExpr": "indexof([0.5,1,3,5,10,30,50,100,300,500], datum.value) >= 0 ? '' + datum.value : ''", "title": "Drainage Area (km²)", "titleFontSize": 23, "titlePadding": 28}},
      "y": {"field": "tc", "type": "quantitative", "scale": {"type": "log", "domain": [0.03, 40], "nice": false}, "axis": {"values": [0.03,0.04,0.05,0.06,0.07,0.08,0.09,0.1,0.2,0.3,0.4,0.5,0.6,0.7,0.8,0.9,1,2,3,4,5,6,7,8,9,10,20,30,40], "labelExpr": "indexof([0.03,0.05,0.1,0.3,0.5,1,3,5,10,20,40], datum.value) >= 0 ? '' + datum.value : ''", "title": "Tc (hour)", "titleFontSize": 26, "titlePadding": 2}}
     }},
    {"data": {"name": "pts"}, "transform": [{"filter": "datum.panel === 'K'"}],
     "mark": {"type": "point", "size": 180, "strokeWidth": 1.2, "opacity": 1, "filled": false},
     "encoding": {
       "x": {"field": "area", "type": "quantitative"},
       "y": {"field": "tc", "type": "quantitative"},
       "shape": {"field": "source", "type": "nominal", "scale": {"domain": ["LU Data","UH Data","USGS Data"], "range": ["triangle-up", "M-1,0A1,1,0,1,1,1,0A1,1,0,1,1,-1,0ZM-1,0L1,0M0,-1L0,1", "triangle-down"]}, "legend": null},
       "fill": {"field": "source", "type": "nominal", "scale": {"domain": ["LU Data","UH Data","USGS Data"], "range": ["transparent", "transparent", "#2b2b2b"]}, "legend": null},
       "stroke": {"field": "source", "type": "nominal", "scale": {"domain": ["LU Data","UH Data","USGS Data"], "range": ["#222", "#222", "#222"]}, "legend": null}
     }},
    {"data": {"values": [{"label": "Kirpich Equation for Tennessee Watersheds"}]}, "mark": {"type": "text", "align": "center", "baseline": "middle", "angle": -21, "fontSize": 24, "fontWeight": "bold", "fill": "#111"}, "encoding": {"text": {"field": "label", "type": "nominal"}, "x": {"datum": 13.5, "type": "quantitative"}, "y": {"datum": 6.5, "type": "quantitative"}}}
  ]
 },
 {
  "width": 602, "height": 466,
  "layer": [
    {"data": {"name": "fit"}, "mark": {"type": "line", "color": "#2d2d2d", "strokeWidth": 4.5, "strokeCap": "round"},
     "encoding": {
      "x": {"field": "area", "type": "quantitative", "scale": {"type": "log", "domain": [0.5, 500], "nice": false}, "axis": {"values": [0.5,0.6,0.7,0.8,0.9,1,2,3,4,5,6,7,8,9,10,20,30,40,50,60,70,80,90,100,200,300,400,500], "labelExpr": "indexof([0.5,1,3,5,10,30,50,100,300,500], datum.value) >= 0 ? '' + datum.value : ''", "title": "Drainage Area (km²)", "titleFontSize": 23, "titlePadding": 28}},
      "y": {"field": "tc", "type": "quantitative", "scale": {"type": "log", "domain": [0.03, 40], "nice": false}, "axis": {"values": [0.03,0.04,0.05,0.06,0.07,0.08,0.09,0.1,0.2,0.3,0.4,0.5,0.6,0.7,0.8,0.9,1,2,3,4,5,6,7,8,9,10,20,30,40], "labels": false, "title": null}}
     }},
    {"data": {"name": "pts"}, "transform": [{"filter": "datum.panel === 'H'"}],
     "mark": {"type": "point", "size": 180, "strokeWidth": 1.2, "opacity": 1, "filled": false},
     "encoding": {
       "x": {"field": "area", "type": "quantitative"},
       "y": {"field": "tc", "type": "quantitative"},
       "shape": {"field": "source", "type": "nominal", "scale": {"domain": ["LU Data","UH Data","USGS Data"], "range": ["triangle-up", "M-1,0A1,1,0,1,1,1,0A1,1,0,1,1,-1,0ZM-1,0L1,0M0,-1L0,1", "triangle-down"]}, "legend": null},
       "fill": {"field": "source", "type": "nominal", "scale": {"domain": ["LU Data","UH Data","USGS Data"], "range": ["transparent", "transparent", "#2b2b2b"]}, "legend": null},
       "stroke": {"field": "source", "type": "nominal", "scale": {"domain": ["LU Data","UH Data","USGS Data"], "range": ["#222", "#222", "#222"]}, "legend": null}
     }},
    {"data": {"values": [{"label": "Haktanir-Sezen Equation"}]}, "mark": {"type": "text", "align": "left", "baseline": "middle", "fontSize": 23, "fontWeight": "bold", "fill": "#4a4a4a"}, "encoding": {"text": {"field": "label", "type": "nominal"}, "x": {"datum": 0.79, "type": "quantitative"}, "y": {"datum": 17.2, "type": "quantitative"}}}
  ]
 }
]
}
